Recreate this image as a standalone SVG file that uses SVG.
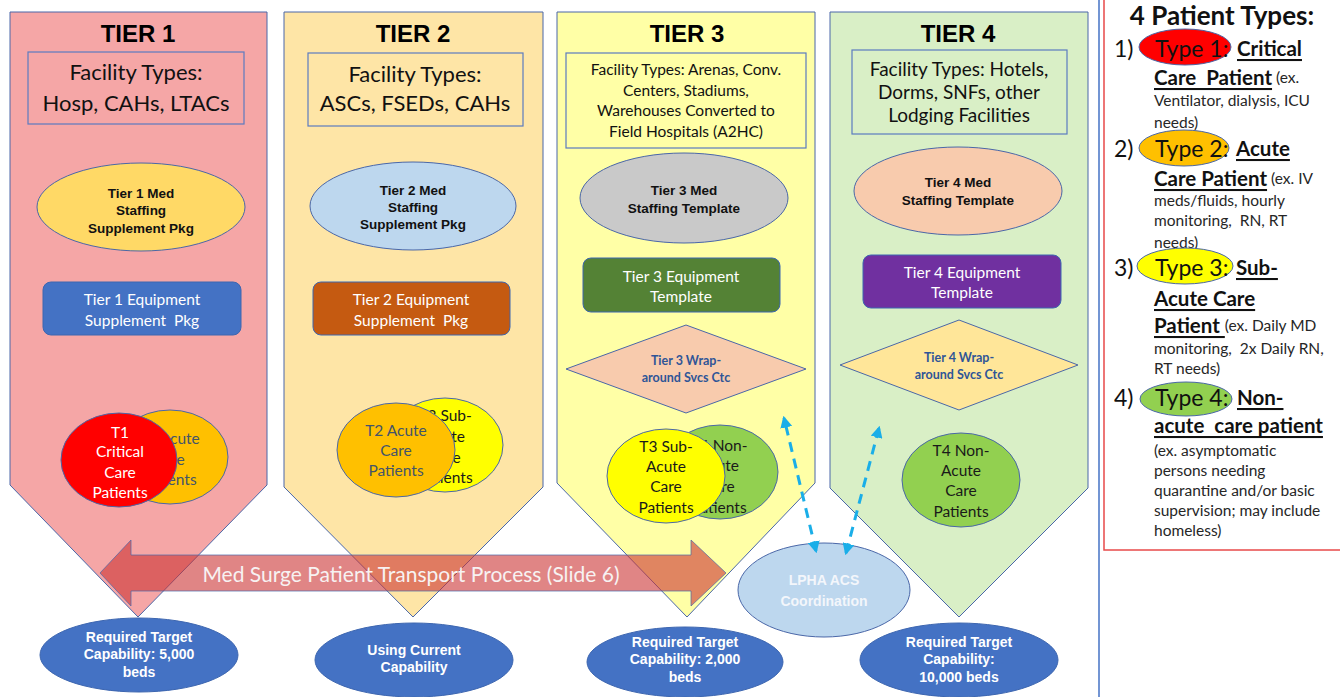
<svg xmlns="http://www.w3.org/2000/svg" width="1340" height="697" viewBox="0 0 1340 697">
<defs>
<style>
text{font-family:Lato,"Open Sans",sans-serif;}
.c{text-anchor:middle;dominant-baseline:central;}
.m{dominant-baseline:central;}
.ab{font-family:"Liberation Sans",Arial,sans-serif;font-weight:700;}
.tier{font-family:"Liberation Sans",Arial,sans-serif;font-weight:700;font-size:24px;fill:#000;}
.pent{stroke:#4a67a8;stroke-width:1;}
.fac{fill:none;stroke:#5b7bc0;stroke-width:1.2;}
.ell{stroke:#4a67a8;stroke-width:1;}
.med{font-size:13.5px;fill:#111;}
.eq{font-size:15.5px;fill:#fff;}
.eqbox{stroke:#3d66b0;stroke-width:1;}
.req{fill:#4472c4;stroke:#3d66b0;stroke-width:1;}
.reqt{font-size:14px;fill:#fff;}
.pt{font-size:15.5px;}
.slate{fill:#44546a;}
.dk{fill:#1a1a1a;}
.wrap{font-size:12.5px;font-weight:700;fill:#2f5597;}
.dash{stroke:#1aaee8;stroke-width:3;stroke-dasharray:10 7;fill:none;}
.lg{font-size:15.5px;fill:#262626;font-weight:400;text-decoration:none;}
.lb{font-size:20.5px;font-weight:700;fill:#111;text-decoration:underline;}
.ty{font-size:23px;fill:#111;}
</style>
<marker id="ah" viewBox="0 0 10 10" refX="8" refY="5" markerWidth="4" markerHeight="4" orient="auto-start-reverse"><path d="M0,0 L10,5 L0,10 z" fill="#1aaee8"/></marker>
</defs>
<rect width="1340" height="697" fill="#fff"/>

<g id="tier1">
<path class="pent" fill="#f5a6a6" d="M10,12 H267 V485 L138,617 L10,485 Z"/>
<text class="tier c" x="138" y="33">TIER 1</text>
<rect class="fac" x="28" y="52" width="216" height="72"/>
<text class="c" x="136" y="71" font-size="22" fill="#111">Facility Types:</text>
<text class="c" x="136" y="102" font-size="22" fill="#111">Hosp, CAHs, LTACs</text>
<ellipse class="ell" cx="141" cy="207" rx="104" ry="44" fill="#ffd966"/>
<text class="c ab med" x="141" y="193">Tier 1 Med</text>
<text class="c ab med" x="141" y="210">Staffing</text>
<text class="c ab med" x="141" y="228">Supplement Pkg</text>
<rect class="eqbox" x="43" y="282" width="198" height="53" rx="8" fill="#4472c4"/>
<text class="c eq" x="142" y="299">Tier 1 Equipment</text>
<text class="c eq" x="142" y="320" xml:space="preserve">Supplement  Pkg</text>
<ellipse class="ell" cx="170" cy="457" rx="58" ry="47" fill="#ffc000"/>
<text class="c pt slate" x="169" y="438">T2 Acute</text>
<text class="c pt slate" x="169" y="459">Care</text>
<text class="c pt slate" x="169" y="479">Patients</text>
<ellipse class="ell" cx="119" cy="460" rx="58" ry="47" fill="#ff0000"/>
<text class="c pt" fill="#fff" x="120" y="432">T1</text>
<text class="c pt" fill="#fff" x="120" y="451">Critical</text>
<text class="c pt" fill="#fff" x="120" y="472">Care</text>
<text class="c pt" fill="#fff" x="120" y="492">Patients</text>
</g>

<g id="tier2">
<path class="pent" fill="#fee5a6" d="M284,12 H543 V487 L413,617 L284,487 Z"/>
<text class="tier c" x="413" y="33">TIER 2</text>
<rect class="fac" x="308" y="53" width="215" height="73"/>
<text class="c" x="415" y="73" font-size="22" fill="#111">Facility Types:</text>
<text class="c" x="415" y="102" font-size="22" fill="#111">ASCs, FSEDs, CAHs</text>
<ellipse class="ell" cx="413" cy="206" rx="103" ry="44" fill="#bdd7ee"/>
<text class="c ab med" x="413" y="190">Tier 2 Med</text>
<text class="c ab med" x="413" y="207">Staffing</text>
<text class="c ab med" x="413" y="224">Supplement Pkg</text>
<rect class="eqbox" x="313" y="282" width="197" height="53" rx="8" fill="#c55a11"/>
<text class="c eq" x="411" y="299">Tier 2 Equipment</text>
<text class="c eq" x="411" y="320" xml:space="preserve">Supplement  Pkg</text>
<ellipse class="ell" cx="445" cy="445" rx="58" ry="47" fill="#ffff00"/>
<text class="c pt dk" x="445" y="415">T3 Sub-</text>
<text class="c pt dk" x="445" y="436">Acute</text>
<text class="c pt dk" x="445" y="457">Care</text>
<text class="c pt dk" x="445" y="477">Patients</text>
<ellipse class="ell" cx="396" cy="450" rx="59" ry="47" fill="#ffc000"/>
<text class="c pt slate" x="396" y="430">T2 Acute</text>
<text class="c pt slate" x="396" y="450">Care</text>
<text class="c pt slate" x="396" y="470">Patients</text>
</g>

<g id="tier3">
<path class="pent" fill="#ffffa6" d="M557,12 H815 V483 L687,617 L557,483 Z"/>
<text class="tier c" x="687" y="33">TIER 3</text>
<rect class="fac" x="566" y="53" width="240" height="95"/>
<text class="c" x="686" y="69" font-size="15.5" fill="#111">Facility Types: Arenas, Conv.</text>
<text class="c" x="686" y="90" font-size="15.5" fill="#111">Centers, Stadiums,</text>
<text class="c" x="686" y="110" font-size="15.5" fill="#111">Warehouses Converted to</text>
<text class="c" x="686" y="131" font-size="15.5" fill="#111">Field Hospitals (A2HC)</text>
<ellipse class="ell" cx="684" cy="198" rx="104" ry="45" fill="#c9c9c9"/>
<text class="c ab med" x="684" y="190">Tier 3 Med</text>
<text class="c ab med" x="684" y="208">Staffing Template</text>
<rect class="eqbox" x="583" y="258" width="197" height="54" rx="8" fill="#548235"/>
<text class="c eq" x="681" y="276">Tier 3 Equipment</text>
<text class="c eq" x="681" y="296">Template</text>
<polygon class="ell" points="566,369 686,325 806,369 686,413" fill="#f8cbad"/>
<text class="c wrap" x="686" y="360">Tier 3 Wrap-</text>
<text class="c wrap" x="686" y="377">around Svcs Ctc</text>
<ellipse class="ell" cx="720" cy="472" rx="58" ry="47" fill="#92d050"/>
<text class="c pt dk" x="719" y="445">T4 Non-</text>
<text class="c pt dk" x="719" y="465">Acute</text>
<text class="c pt dk" x="719" y="486">Care</text>
<text class="c pt dk" x="719" y="507">Patients</text>
<ellipse class="ell" cx="666" cy="476" rx="59" ry="47" fill="#ffff00"/>
<text class="c pt dk" x="666" y="446">T3 Sub-</text>
<text class="c pt dk" x="666" y="466">Acute</text>
<text class="c pt dk" x="666" y="486">Care</text>
<text class="c pt dk" x="666" y="507">Patients</text>
</g>

<g id="tier4">
<path class="pent" fill="#d9efc6" d="M830,12 H1088 V488 L959,617 L830,488 Z"/>
<text class="tier c" x="958" y="33">TIER 4</text>
<rect class="fac" x="852" y="50" width="215" height="84"/>
<text class="c" x="959" y="68" font-size="19" fill="#111">Facility Types: Hotels,</text>
<text class="c" x="959" y="91" font-size="19" fill="#111">Dorms, SNFs, other</text>
<text class="c" x="959" y="114" font-size="19" fill="#111">Lodging Facilities</text>
<ellipse class="ell" cx="958" cy="191" rx="104" ry="44" fill="#f8cbad"/>
<text class="c ab med" x="958" y="182">Tier 4 Med</text>
<text class="c ab med" x="958" y="200">Staffing Template</text>
<rect class="eqbox" x="863" y="255" width="198" height="53" rx="8" fill="#7030a0"/>
<text class="c eq" x="962" y="272">Tier 4 Equipment</text>
<text class="c eq" x="962" y="292">Template</text>
<polygon class="ell" points="840,365 959,320 1078,365 959,410" fill="#ffe699"/>
<text class="c wrap" x="959" y="357">Tier 4 Wrap-</text>
<text class="c wrap" x="959" y="374">around Svcs Ctc</text>
<ellipse class="ell" cx="961" cy="480" rx="59" ry="47" fill="#92d050"/>
<text class="c pt dk" x="961" y="450">T4 Non-</text>
<text class="c pt dk" x="961" y="470">Acute</text>
<text class="c pt dk" x="961" y="490">Care</text>
<text class="c pt dk" x="961" y="511">Patients</text>
</g>

<g id="lpha">
<ellipse class="ell" cx="824" cy="590" rx="86" ry="47" fill="#bdd7ee"/>
<text class="c ab" x="824" y="580" font-size="14" fill="#f3f6fb">LPHA ACS</text>
<text class="c ab" x="824" y="601" font-size="14" fill="#f3f6fb">Coordination</text>
</g>

<g id="connectors">
<g id="transport">
<polygon points="100,573 131,540 131,555 691,555 691,540 726,573 691,606 691,591 131,591 131,606" fill="#cc3333" fill-opacity="0.6" stroke="#4a67a8" stroke-opacity="0.7" stroke-width="1"/>
<text class="c" x="411" y="573" font-size="21" fill="#f7f2f2">Med Surge Patient Transport Process (Slide 6)</text>
</g>
<line class="dash" x1="816" y1="551" x2="784" y2="418" marker-start="url(#ah)" marker-end="url(#ah)"/>
<line class="dash" x1="846" y1="553" x2="879" y2="428" marker-start="url(#ah)" marker-end="url(#ah)"/>
</g>

<g id="req1">
<ellipse class="req" cx="139" cy="655" rx="99" ry="37"/>
<text class="c ab reqt" x="139" y="637">Required Target</text>
<text class="c ab reqt" x="139" y="654">Capability: 5,000</text>
<text class="c ab reqt" x="139" y="672">beds</text>
</g>
<g id="req2">
<ellipse class="req" cx="414" cy="660" rx="99" ry="37"/>
<text class="c ab reqt" x="414" y="650">Using Current</text>
<text class="c ab reqt" x="414" y="667">Capability</text>
</g>
<g id="req3">
<ellipse class="req" cx="685" cy="662" rx="98" ry="35"/>
<text class="c ab reqt" x="685" y="642">Required Target</text>
<text class="c ab reqt" x="685" y="659">Capability: 2,000</text>
<text class="c ab reqt" x="685" y="677">beds</text>
</g>
<g id="req4">
<ellipse class="req" cx="959" cy="660" rx="99" ry="37"/>
<text class="c ab reqt" x="959" y="642">Required Target</text>
<text class="c ab reqt" x="959" y="659">Capability:</text>
<text class="c ab reqt" x="959" y="677">10,000 beds</text>
</g>

<line x1="1099" y1="0" x2="1099" y2="697" stroke="#4472c4" stroke-width="1.5"/>

<g id="legend">
<rect x="1104" y="-2" width="240" height="552" fill="#fff" stroke="#e84a4a" stroke-width="1.5"/>
<text class="c" x="1222" y="15" font-size="26" font-weight="700" fill="#111">4 Patient Types:</text>
<text class="m ty" x="1114" y="48">1)</text>
<ellipse class="ell" cx="1185" cy="47" rx="46" ry="18" fill="#ff0000"/>
<text class="m ty" x="1155" y="48">Type 1:</text>
<text class="m lb" x="1237" y="48">Critical</text>
<text class="m" x="1154" y="77" xml:space="preserve"><tspan class="lb">Care  Patient</tspan><tspan class="lg"> (ex.</tspan></text>
<text class="m lg" x="1154" y="100">Ventilator, dialysis, ICU</text>
<text class="m lg" x="1154" y="122">needs)</text>
<text class="m ty" x="1114" y="148">2)</text>
<ellipse class="ell" cx="1184" cy="148" rx="45" ry="18" fill="#ffc000"/>
<text class="m ty" x="1155" y="148">Type 2:</text>
<text class="m lb" x="1236" y="148">Acute</text>
<text class="m" x="1154" y="178" xml:space="preserve"><tspan class="lb">Care Patient</tspan><tspan class="lg"> (ex. IV</tspan></text>
<text class="m lg" x="1154" y="200">meds/fluids, hourly</text>
<text class="m lg" x="1154" y="220" xml:space="preserve">monitoring,  RN, RT</text>
<text class="m lg" x="1154" y="242">needs)</text>
<text class="m ty" x="1114" y="267">3)</text>
<ellipse class="ell" cx="1185" cy="266" rx="48" ry="18" fill="#ffff00"/>
<text class="m ty" x="1155" y="267">Type 3:</text>
<text class="m lb" x="1236" y="267">Sub-</text>
<text class="m lb" x="1154" y="298">Acute Care</text>
<text class="m" x="1154" y="325" xml:space="preserve"><tspan class="lb">Patient </tspan><tspan class="lg">(ex. Daily MD</tspan></text>
<text class="m lg" x="1154" y="348" xml:space="preserve">monitoring,  2x Daily RN,</text>
<text class="m lg" x="1154" y="368">RT needs)</text>
<text class="m ty" x="1114" y="397">4)</text>
<ellipse class="ell" cx="1186" cy="399" rx="46" ry="17" fill="#92d050"/>
<text class="m ty" x="1155" y="397">Type 4:</text>
<text class="m lb" x="1237" y="397">Non-</text>
<text class="m lb" x="1154" y="425" xml:space="preserve">acute  care patient</text>
<text class="m lg" x="1154" y="450">(ex. asymptomatic</text>
<text class="m lg" x="1154" y="470">persons needing</text>
<text class="m lg" x="1154" y="490">quarantine and/or basic</text>
<text class="m lg" x="1154" y="510">supervision; may include</text>
<text class="m lg" x="1154" y="530">homeless)</text>
</g>
</svg>
